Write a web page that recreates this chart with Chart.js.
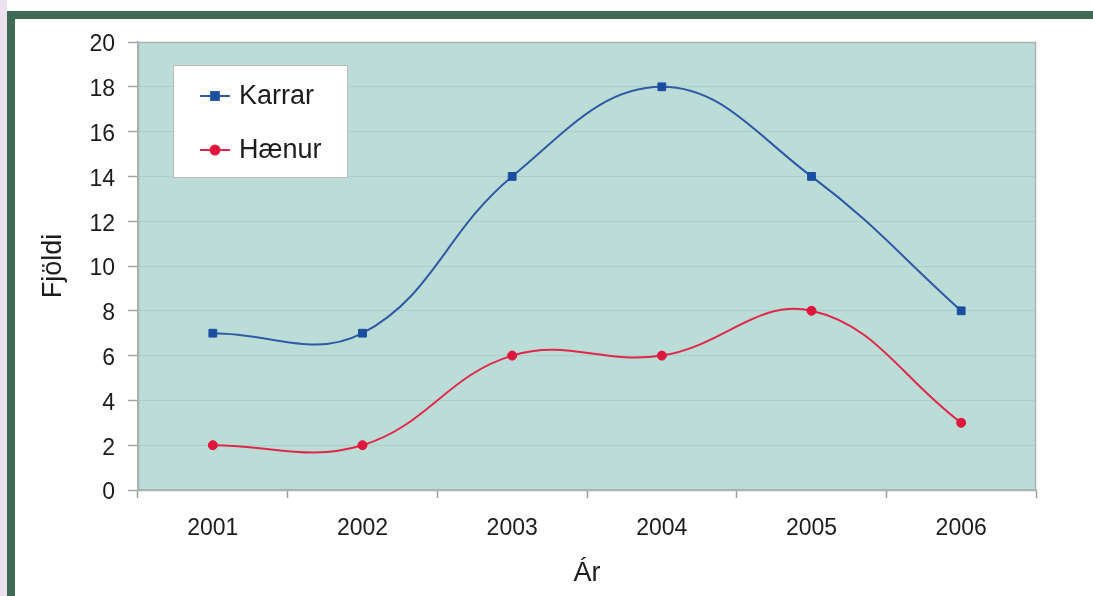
<!DOCTYPE html>
<html>
<head>
<meta charset="utf-8">
<script src="https://cdn.jsdelivr.net/npm/chart.js@4"></script>
<style>
html,body{margin:0;padding:0;background:#ffffff;overflow:hidden;}
#wrap{position:absolute;left:0;top:0;width:1093px;height:596px;}
</style>
</head>
<body>
<div id="wrap"><canvas id="c" width="1093" height="596"></canvas></div>
<script>
const categories = ['2001', '2002', '2003', '2004', '2005', '2006'];
const karrar = [7, 7, 14, 18, 14, 8];
const haenur = [2, 2, 6, 6, 8, 3];
const seriesNames = ['Karrar', 'Hænur'];
const yTitle = 'Fjöldi';
const xTitle = 'Ár';

const FONT = '"Liberation Sans", Arial, sans-serif';

const decor = {
  id: 'decor',
  beforeDraw(chart) {
    const ctx = chart.ctx;
    const a = chart.chartArea;
    ctx.save();
    ctx.fillStyle = '#ffffff';
    ctx.fillRect(0, 0, chart.width, chart.height);
    ctx.fillStyle = '#ece2ee';
    ctx.fillRect(0, 0, 7, chart.height);
    ctx.fillStyle = '#3f6a56';
    ctx.fillRect(7, 11, chart.width - 7, 8);
    ctx.fillRect(7, 11, 8, chart.height - 11);
    ctx.fillStyle = '#bcdcd8';
    ctx.fillRect(a.left, a.top, a.right - a.left, a.bottom - a.top);
    ctx.restore();
  },
  afterDatasetsDraw(chart) {
    const ctx = chart.ctx;
    const a = chart.chartArea;
    ctx.save();
    ctx.strokeStyle = '#a9b3b1';
    ctx.lineWidth = 1.5;
    ctx.strokeRect(a.left + 0.5, a.top + 0.5, a.right - a.left - 1, a.bottom - a.top);
    const bx = 173, by = 65, bw = 174, bh = 112;
    ctx.fillStyle = '#ffffff';
    ctx.fillRect(bx, by, bw, bh);
    ctx.strokeStyle = '#b8bcbc';
    ctx.lineWidth = 1;
    ctx.strokeRect(bx + 0.5, by + 0.5, bw, bh);
    const rows = [96, 150];
    chart.data.datasets.forEach((ds, i) => {
      const y = rows[i];
      ctx.strokeStyle = ds.borderColor;
      ctx.lineWidth = 2;
      ctx.beginPath();
      ctx.moveTo(200, y);
      ctx.lineTo(230, y);
      ctx.stroke();
      Chart.helpers.drawPoint(ctx, {pointStyle: ds.pointStyle, radius: ds.pointRadius, borderWidth: 1}, 215, y);
      ctx.fillStyle = ds.pointBackgroundColor;
      ctx.strokeStyle = ds.pointBorderColor;
      ctx.fill();
      ctx.fillStyle = '#1c1c1c';
      ctx.font = '27px ' + FONT;
      ctx.textAlign = 'left';
      ctx.textBaseline = 'middle';
      ctx.fillText(ds.label, 239, y + 1);
    });
    ctx.restore();
  }
};

new Chart(document.getElementById('c'), {
  type: 'line',
  data: {
    labels: categories,
    datasets: [
      {
        label: seriesNames[0],
        data: karrar,
        borderColor: '#2f5ba5',
        backgroundColor: '#1a4ea0',
        pointBackgroundColor: '#1a4ea0',
        pointBorderColor: '#1a4ea0',
        pointStyle: 'rect',
        pointRadius: 5.5,
        pointBorderWidth: 1,
        borderWidth: 2,
        tension: 0.4,
        fill: false
      },
      {
        label: seriesNames[1],
        data: haenur,
        borderColor: '#e0284a',
        backgroundColor: '#e0163c',
        pointBackgroundColor: '#e0163c',
        pointBorderColor: '#e0163c',
        pointStyle: 'circle',
        pointRadius: 4.5,
        pointBorderWidth: 1,
        borderWidth: 2,
        tension: 0.4,
        fill: false
      }
    ]
  },
  options: {
    responsive: false,
    animation: false,
    devicePixelRatio: 1,
    layout: { padding: { top: 42, right: 57, left: 0, bottom: 0 } },
    plugins: { legend: { display: false }, tooltip: { enabled: false } },
    scales: {
      x: {
        type: 'category',
        offset: true,
        grid: { display: true, drawOnChartArea: false, offset: true, tickLength: 8, tickColor: '#9aa0a0', tickWidth: 1.5 },
        border: { display: true, color: '#a9b3b1', width: 1.5 },
        ticks: { color: '#1c1c1c', font: { family: FONT, size: 23 }, padding: 17, maxRotation: 0 },
        title: { display: true, text: xTitle, color: '#1c1c1c', font: { family: FONT, size: 27 }, padding: { top: 0, bottom: 6 } },
        afterFit(s) { s.height = 106; }
      },
      y: {
        min: 0,
        max: 20,
        ticks: { stepSize: 2, color: '#1c1c1c', font: { family: FONT, size: 23 }, padding: 13, labelOffset: 3 },
        grid: { color: 'rgba(70,110,105,0.12)', lineWidth: 1, tickLength: 10, tickColor: '#a0a6a6', tickWidth: 1.5 },
        border: { display: true, color: '#a9b3b1', width: 1.5 },
        title: { display: true, text: yTitle, color: '#1c1c1c', font: { family: FONT, size: 27 }, padding: { top: 37, bottom: 0 } },
        afterFit(s) { s.width = 138; }
      }
    }
  },
  plugins: [decor]
});
</script>
</body>
</html>
